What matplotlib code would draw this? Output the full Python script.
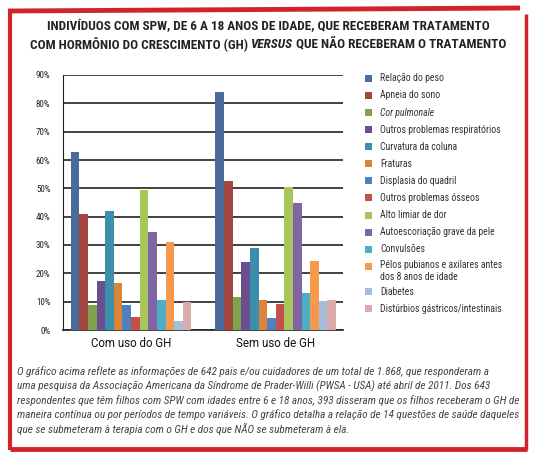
import matplotlib
matplotlib.use('Agg')
import matplotlib.pyplot as plt
from matplotlib.lines import Line2D
from matplotlib.patches import Rectangle
import numpy as np

# categorias (grupos) e questões de saúde
grupos = ["Com uso do GH", "Sem uso de GH"]
questoes = [
    "Relação do peso", "Apneia do sono", "Cor pulmonale",
    "Outros problemas respiratórios", "Curvatura da coluna", "Fraturas",
    "Displasia do quadril", "Outros problemas ósseos", "Alto limiar de dor",
    "Autoescoriação grave da pele", "Convulsões",
    "Pélos pubianos e axilares antes\ndos 8 anos de idade",
    "Diabetes", "Distúrbios gástricos/intestinais",
]
com_gh = [63, 41, 9, 17.3, 42, 16.6, 9, 4.6, 49.5, 34.6, 10.6, 31, 3.2, 10]
sem_gh = [84, 52.6, 11.6, 24, 28.8, 10.6, 4.4, 9.2, 50.5, 44.8, 13, 24.4, 10.1, 10.6]
cores = ["#4A6C9C", "#A2463F", "#80A24A", "#6A4F8E", "#3C8FAA", "#DB853A",
         "#4F80C0", "#C4504B", "#A9C65C", "#8164A3", "#4DAEC8", "#F59A4C",
         "#A7BEDB", "#D9ABAA"]
y_ticks = list(range(0, 91, 10))

plt.rcParams['font.family'] = ['Roboto Condensed', 'DejaVu Sans']

W, H = 549, 467
fig = plt.figure(figsize=(W / 100, H / 100), dpi=100)
r = fig.canvas.get_renderer()


def px(x, y):
    return x / W, 1 - y / H


def ajusta(txt_obj, largura_px):
    # ajusta o tamanho da fonte para a largura desejada
    w = txt_obj.get_window_extent(r).width
    txt_obj.set_fontsize(txt_obj.get_fontsize() * largura_px / w)


ax = fig.add_axes([63 / W, 1 - 330 / H, 280 / W, 255 / H])

n = len(questoes)
inicio_grupo = [0, 16.8]
valores = [com_gh, sem_gh]
for g, ini in enumerate(inicio_grupo):
    x = ini + np.arange(n) + 0.5
    ax.bar(x, valores[g], width=1.0, color=cores, zorder=3)

ax.set_xlim(-0.9, 31.6)
ax.set_ylim(0, 90)
ax.set_yticks(y_ticks)
ax.set_yticklabels([f"{v}%" for v in y_ticks], fontsize=6.5, color="#222")
ax.set_xticks([ini + n / 2 for ini in inicio_grupo])
ax.set_xticklabels(grupos, fontsize=8.3, color="#111", family=['Roboto', 'DejaVu Sans'])
ax.tick_params(axis='x', length=0, pad=5)
ax.tick_params(axis='y', length=0, pad=9)
ax.yaxis.grid(True, color="#222222", linewidth=1.2, zorder=1)
ax.set_axisbelow(True)
for s in ["top", "right"]:
    ax.spines[s].set_visible(False)
ax.spines["left"].set_color("#222222")
ax.spines["bottom"].set_color("#222222")
ax.spines["bottom"].set_linewidth(1.2)

# legenda (montada à mão, uma linha por questão)
ref = fig.text(0, 0, "Outros problemas respiratórios", fontsize=7)
ajusta(ref, 122)
tam_leg = ref.get_fontsize()
ref.remove()
y_linha = 78.3
for i, q in enumerate(questoes):
    xq, yq = px(365, y_linha + 3.5)
    fig.add_artist(Rectangle((xq, yq), 7 / W, 7 / H, transform=fig.transFigure,
                             facecolor=cores[i], edgecolor="none"))
    lx, ly = px(380, y_linha)
    fig.text(lx, ly, q, ha="left", va="top" if "\n" in q else "center",
             fontsize=tam_leg, color="#333333", linespacing=1.15,
             style="italic" if i == 2 else "normal",
             transform=fig.transFigure)
    if "\n" in q:
        # texto em duas linhas: topo alinhado
        fig.texts[-1].set_y(1 - (y_linha - 6) / H)
        y_linha += 25.3
    else:
        y_linha += 17.1

# título
cor_tit = "#222222"
t1 = fig.text(0.5, 1 - 27 / H,
              "INDIVÍDUOS COM SPW, DE 6 A 18 ANOS DE IDADE, QUE RECEBERAM TRATAMENTO",
              ha="center", va="center", fontsize=9.5, fontweight="bold", color=cor_tit)
partes = [("COM HORMÔNIO DO CRESCIMENTO (GH) ", "normal"), ("VERSUS", "italic"),
          (" QUE NÃO RECEBERAM O TRATAMENTO", "normal")]
objs = []
for txt, st in partes:
    objs.append(fig.text(0, 1 - 44 / H, txt, ha="left", va="center", fontsize=9.5,
                         fontweight="bold", style=st, color=cor_tit))
tot = sum(o.get_window_extent(r).width for o in objs)
for o in objs + [t1]:
    o.set_fontsize(9.5 * 481 / tot)
larg = [o.get_window_extent(r).width / fig.bbox.width for o in objs]
x0 = 268 / W - sum(larg) / 2
for o, w in zip(objs, larg):
    o.set_x(x0)
    x0 += w
t1.set_x(268 / W)

# texto explicativo
legenda_txt = [
    "O gráfico acima reflete as informações de 642 pais e/ou cuidadores de um total de 1.868, que responderam a",
    "uma pesquisa da Associação Americana da Síndrome de Prader-Willi (PWSA - USA) até abril de 2011. Dos 643",
    "respondentes que têm filhos com SPW com idades entre 6 e 18 anos, 393 disseram que os filhos receberam o GH de",
    "maneira contínua ou por períodos de tempo variáveis. O gráfico detalha a relação de 14 questões de saúde daqueles",
    "que se submeteram à terapia com o GH e dos que NÃO se submeteram à ela.",
]
linhas = []
for k, linha in enumerate(legenda_txt):
    xl, yl = px(17, 371.7 + k * 14.4)
    linhas.append(fig.text(xl, yl, linha, ha="left", va="center",
                           fontsize=7.6, style="italic", color="#444444"))
w3 = linhas[2].get_window_extent(r).width
for t in linhas:
    t.set_fontsize(7.6 * 501 / w3)

# moldura vermelha
vermelho = "#D2232A"
for (a, b, lw) in [((8, 11), (520, 8), 3.5), ((10, 11), (10, 450), 3),
                   ((526, 14), (526, 450), 2.5), ((10, 449), (527, 449), 3.5)]:
    xa, ya = px(*a)
    xb, yb = px(*b)
    fig.add_artist(Line2D([xa, xb], [ya, yb], color=vermelho, linewidth=lw,
                          solid_capstyle="butt", transform=fig.transFigure))

fig.savefig("out.png", dpi=100)
